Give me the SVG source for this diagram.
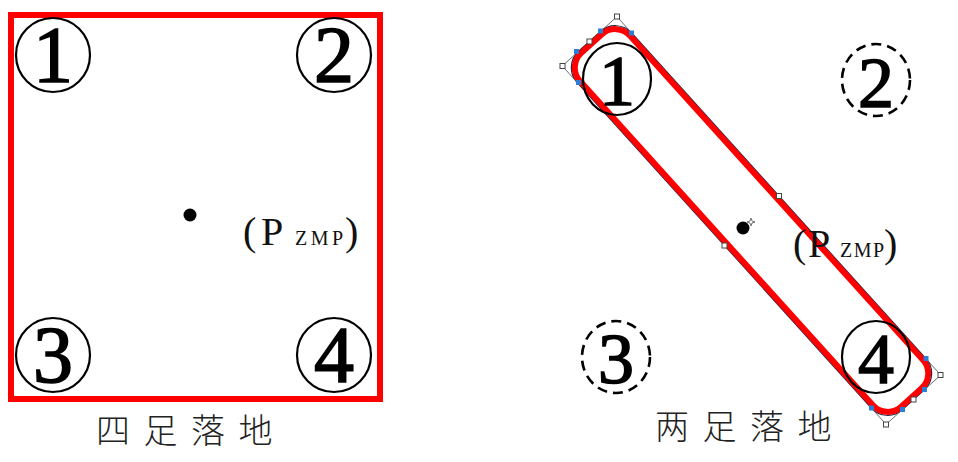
<svg xmlns="http://www.w3.org/2000/svg" width="958" height="462" viewBox="0 0 958 462">
<style>
.ring{fill:none;stroke:#000;stroke-width:2.2}
.dash{fill:none;stroke:#000;stroke-width:2.6;stroke-dasharray:10 6}
.num{font-family:"Liberation Serif",serif;font-size:80px;fill:#000;stroke:#000;stroke-width:1.6;text-anchor:middle}
.numr{font-family:"Liberation Serif",serif;font-size:72px;fill:#000;stroke:#000;stroke-width:1.5;text-anchor:middle}
.lbl{font-family:"Liberation Serif",serif;font-size:40px;fill:#111}
.sub{font-family:"Liberation Serif",serif;font-size:20px;fill:#111}
.cap{font-family:"Noto Sans CJK SC",sans-serif;font-size:34px;fill:#222;letter-spacing:13.5px;font-weight:300}
.red{fill:none;stroke:#ff0000;stroke-width:6}
.h{fill:#fff;stroke:#444;stroke-width:1}
.b{fill:#2a7fd4}
</style>
<g id="left-panel">
  <rect id="support-square" class="red" x="11" y="15" width="369" height="384"/>
  <g id="foot1-left"><circle class="ring" cx="53" cy="55" r="37"/><text class="num" x="53" y="82">1</text></g>
  <g id="foot2-left"><circle class="ring" cx="334" cy="55" r="37"/><text class="num" x="334" y="82">2</text></g>
  <g id="foot3-left"><circle class="ring" cx="53" cy="355" r="37"/><text class="num" x="53" y="382">3</text></g>
  <g id="foot4-left"><circle class="ring" cx="334" cy="355" r="37"/><text class="num" x="334" y="382">4</text></g>
  <g id="zmp-left">
    <circle cx="190" cy="215" r="6.5" fill="#000"/>
    <text class="lbl" x="243" y="245">(</text>
    <text class="lbl" x="261" y="245">P</text>
    <text class="sub" x="295" y="245" textLength="48" lengthAdjust="spacing">ZMP</text>
    <text class="lbl" x="345" y="245">)</text>
  </g>
  <text id="caption-left" class="cap" x="96" y="443">四足落地</text>
</g>
<g id="right-panel">
  <g id="support-strip" transform="translate(751.5,220.5) rotate(47.9)">
    <rect x="-241.5" y="-36.8" width="483" height="73.6" rx="22" fill="none" stroke="#1c2440" stroke-width="1.2"/>
    <g fill="none" stroke="#555" stroke-width="0.8">
      <polyline points="-241.5,-14.8 -241.5,-36.8 -219.5,-36.8"/>
      <polyline points="-241.5,14.8 -241.5,36.8 -219.5,36.8"/>
      <polyline points="241.5,14.8 241.5,36.8 219.5,36.8"/>
      <polyline points="241.5,-14.8 241.5,-36.8 219.5,-36.8"/>
    </g>
    <rect class="red" x="-238.5" y="-33.8" width="477" height="67.6" rx="20"/>
  </g>
  <g id="handles">
    <rect class="b" x="598" y="28.5" width="5" height="5"/>
    <rect class="b" x="629" y="30.5" width="5" height="5"/>
    <rect class="b" x="574" y="49" width="5" height="5"/>
    <rect class="b" x="576" y="80" width="5" height="5"/>
    <rect class="b" x="869" y="405.5" width="5" height="5"/>
    <rect class="b" x="900" y="407" width="5" height="5"/>
    <rect class="b" x="923.5" y="356" width="5" height="5"/>
    <rect class="b" x="922" y="387" width="5" height="5"/>
    <rect class="h" x="614.5" y="14" width="5" height="5"/>
    <rect class="h" x="560" y="63.5" width="5" height="5"/>
    <rect class="h" x="883.5" y="422" width="5" height="5"/>
    <rect class="h" x="938" y="372.5" width="5" height="5"/>
    <rect class="h" x="587" y="39" width="5" height="5"/>
    <rect class="h" x="911" y="397" width="5" height="5"/>
    <rect class="h" x="776.5" y="193.5" width="5" height="5"/>
    <rect class="h" x="722" y="243" width="5" height="5"/>
  </g>
  <g id="foot1-right"><ellipse class="ring" cx="617" cy="79" rx="34" ry="36"/><text class="numr" x="617" y="105">1</text></g>
  <g id="foot2-right"><ellipse class="dash" cx="876" cy="80" rx="34" ry="36"/><text class="numr" x="876" y="107">2</text></g>
  <g id="foot3-right"><ellipse class="dash" cx="616" cy="357" rx="34" ry="36"/><text class="numr" x="616" y="383">3</text></g>
  <g id="foot4-right"><ellipse class="ring" cx="876" cy="357" rx="34" ry="36"/><text class="numr" x="876" y="383">4</text></g>
  <g id="zmp-right">
    <circle cx="743" cy="228" r="6.5" fill="#000"/>
    <path d="M751,218 L752,221 L755,222 L752,223 L751,226 L750,223 L747,222 L750,221 Z" fill="#fff" stroke="#555" stroke-width="0.8"/>
    <text class="lbl" x="793" y="257">(</text>
    <text class="lbl" x="808" y="257">P</text>
    <text class="sub" x="840" y="257" textLength="44" lengthAdjust="spacing">ZMP</text>
    <text class="lbl" x="884" y="257">)</text>
  </g>
  <text id="caption-right" class="cap" x="655" y="439">两足落地</text>
</g>
</svg>
